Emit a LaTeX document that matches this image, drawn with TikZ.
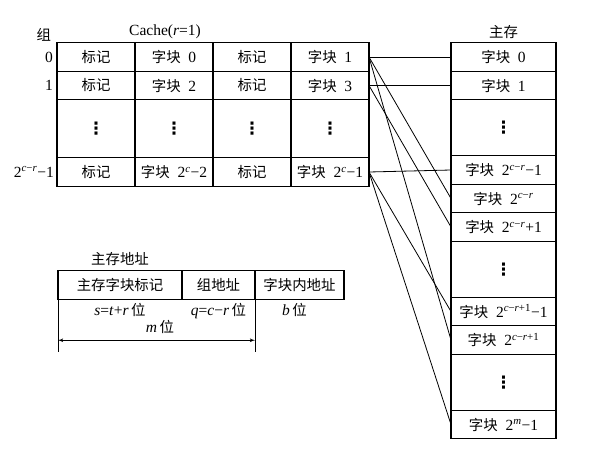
\documentclass[tikz,border=0pt]{standalone}
\usepackage{fontspec}
\setmainfont{Liberation Serif}
\newfontfamily\cjk{Noto Sans CJK SC}[Scale=0.93]
\newfontfamily\sym{DejaVu Sans}
\usetikzlibrary{arrows,positioning}
\tikzstyle{cell}     = [rectangle, draw, line width=1.1pt, outer sep=0pt, inner sep=0pt, minimum width=78pt, minimum height=28.5pt, text centered]
\tikzstyle{gap}      = [cell, minimum height=58pt, font=\fontsize{17}{19}\sym\bfseries]
\tikzstyle{mcell}    = [cell, minimum width=105pt]
\tikzstyle{mgap}     = [mcell, minimum height=56pt, font=\fontsize{17}{19}\sym\bfseries]
\tikzstyle{line}     = [draw, line width=0.8pt]
\tikzstyle{tag}      = [inner sep=1pt]
\newcommand{\zh}[1]{{\cjk #1}}
\newcommand{\blk}[1]{\zh{字块}\enspace #1}
\newcommand{\pw}[1]{2\textsuperscript{#1}}
\newcommand{\vi}[1]{\textit{#1}}

\begin{document}
\begin{tikzpicture}[x=1pt, y=-1pt, font=\fontsize{15.5}{17}\selectfont]
	\useasboundingbox (0,0) rectangle (615,455);

		% Node Setting %

		% Cache ===================================%
		\node [cell] (c00) at (96,57) {\zh{标记}};
		\node [cell, right=0pt of c00] (c01) {\blk{0}};
		\node [cell, right=0pt of c01] (c02) {\zh{标记}};
		\node [cell, right=0pt of c02] (c03) {\blk{1}};
		% 1 =======================================%
		\node [cell, below=0pt of c00] (c10) {\zh{标记}};
		\node [cell, right=0pt of c10] (c11) {\blk{2}};
		\node [cell, right=0pt of c11] (c12) {\zh{标记}};
		\node [cell, right=0pt of c12] (c13) {\blk{3}};
		% dots ====================================%
		\node [gap, below=0pt of c10] (c20) {⋮};
		\node [gap, right=0pt of c20] (c21) {⋮};
		\node [gap, right=0pt of c21] (c22) {⋮};
		\node [gap, right=0pt of c22] (c23) {⋮};
		% last ====================================%
		\node [cell, below=0pt of c20] (c30) {\zh{标记}};
		\node [cell, right=0pt of c30] (c31) {\blk{\pw{\vi{c}}−2}};
		\node [cell, right=0pt of c31] (c32) {\zh{标记}};
		\node [cell, right=0pt of c32] (c33) {\blk{\pw{\vi{c}}−1}};
		%=========================================%
		\node [tag, left=3pt of c00] (g0) {0};
		\node [tag, left=3pt of c10] (g1) {1};
		\node [tag, left=2pt of c30] (glast) {\pw{\vi{c}−\vi{r}}−1};
		\node [tag, above=8pt of g0, xshift=-5pt] (grp) {\zh{组}};
		\node [tag, above=3pt of c01, xshift=-9pt] (cache) {Cache(\vi{r}=1)};

		% Main memory =============================%
		\node [mcell] (m0) at (503.5,57) {\blk{0}};
		\node [mcell, below=0pt of m0] (m1) {\blk{1}};
		\node [mgap, below=0pt of m1] (mdA) {⋮};
		\node [mcell, below=0pt of mdA] (mk1) {\blk{\pw{\vi{c}−\vi{r}}−1}};
		\node [mcell, below=0pt of mk1] (mk) {\blk{\pw{\vi{c}−\vi{r}}}};
		\node [mcell, below=0pt of mk] (mk2) {\blk{\pw{\vi{c}−\vi{r}}+1}};
		\node [mgap, below=0pt of mk2] (mdB) {⋮};
		\node [mcell, below=0pt of mdB] (m2k1) {\blk{\pw{\vi{c}−\vi{r}+1}−1}};
		\node [mcell, below=0pt of m2k1] (m2k) {\blk{\pw{\vi{c}−\vi{r}+1}}};
		\node [mgap, below=0pt of m2k] (mdC) {⋮};
		\node [mcell, below=0pt of mdC] (mlast) {\blk{\pw{\vi{m}}−1}};
		\node [tag, above=3pt of m0] (mem) {\zh{主存}};

		% Address =================================%
		\node [cell, minimum width=124pt] (a1) at (120,285) {\zh{主存字块标记}};
		\node [cell, minimum width=73pt, right=0pt of a1] (a2) {\zh{组地址}};
		\node [cell, minimum width=89pt, right=0pt of a2] (a3) {\zh{字块内地址}};
		\node [tag, above=4pt of a1] (addr) {\zh{主存地址}};
		\node [tag, below=3pt of a1] (sbits) {\vi{s}=\vi{t}+\vi{r}\,\zh{位}};
		\node [tag, below=3pt of a2] (qbits) {\vi{q}=\vi{c}−\vi{r}\,\zh{位}};
		\node [tag, below=3pt of a3, xshift=-5pt] (bbits) {\vi{b}\,\zh{位}};
		\node [tag, below=1pt of sbits, xshift=40pt] (mbits) {\vi{m}\,\zh{位}};
		\coordinate [below=41pt of a1.south west] (arrL);
		\coordinate [below=41pt of a2.south east] (arrR);
		\coordinate [below=53pt of a1.south west] (extL);
		\coordinate [below=53pt of a2.south east] (extR);

		% Connection %

		\path [line] (c03.east)  -- (m0.west);
		\path [line] (c03.east)  -- (mk.west);
		\path [line] (c03.east)  -- (m2k.west);
		\path [line] (c13.east)  -- (m1.west);
		\path [line] (c13.east)  -- (mk2.west);
		\path [line] (c33.east)  -- (mk1.west);
		\path [line] (c33.east)  -- (m2k1.west);
		\path [line] (c33.east)  -- (mlast.west);
		\path [line] (a1.south west)  -- (extL);
		\path [line] (a2.south east)  -- (extR);
		\path [line, latex'-latex'] (arrL)  -- (arrR);
	\end{tikzpicture}
\end{document}
